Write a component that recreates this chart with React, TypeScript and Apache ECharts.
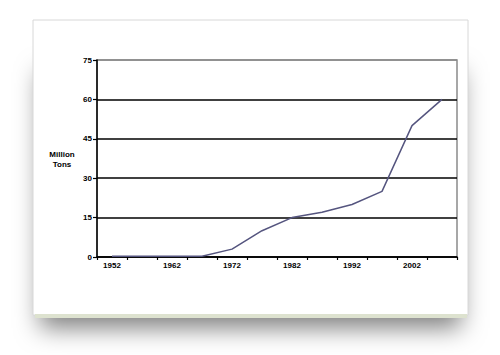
import React, { useEffect, useRef } from "react";
import * as echarts from "echarts";

const years = ["1952", "1957", "1962", "1967", "1972", "1977", "1982", "1987", "1992", "1997", "2002", "2007"];
const tons = [0.3, 0.3, 0.3, 0.3, 3, 10, 15, 17, 20, 25, 50, 60];
const yTicks = { min: 0, max: 75, interval: 15 };
const yName = "Million\nTons";

export default function App() {
  const ref = useRef<HTMLDivElement>(null);
  useEffect(() => {
    if (!ref.current) return;
    const chart = echarts.init(ref.current, null, { renderer: "svg" });
    const font = "Liberation Sans, Arial, sans-serif";
    chart.setOption({
      animation: false,
      backgroundColor: "#ffffff",
      graphic: [
        {
          type: "rect",
          z: -10,
          shape: { x: 40, y: 60, width: 421, height: 256 },
          style: { fill: "#ffffff", shadowBlur: 24, shadowColor: "rgba(0,0,0,0.5)", shadowOffsetY: 12 },
          silent: true,
        },
        {
          type: "rect",
          z: -9,
          shape: { x: 33, y: 20, width: 435, height: 295 },
          style: { fill: "#ffffff", stroke: "#d8d8d8", lineWidth: 1 },
          silent: true,
        },
        {
          type: "rect",
          z: -8,
          shape: { x: 35, y: 314, width: 432, height: 4 },
          style: { fill: "#dde2cf" },
          silent: true,
        },
        {
          type: "text",
          z: 10,
          x: 62,
          y: 159,
          style: {
            text: yName,
            fill: "#000",
            font: `bold 8px ${font}`,
            textAlign: "center",
            textVerticalAlign: "middle",
            lineHeight: 10,
          },
        },
      ],
      grid: {
        left: 97,
        right: 43,
        top: 60,
        bottom: 98,
        show: true,
        borderColor: "#8a8a8a",
        borderWidth: 1.5,
        backgroundColor: "transparent",
      },
      xAxis: {
        type: "category",
        data: years,
        boundaryGap: true,
        axisLine: { lineStyle: { color: "#000", width: 1.5 } },
        axisTick: { show: true, interval: 0, length: 3, lineStyle: { color: "#000", width: 1.2 } },
        axisLabel: { interval: 1, color: "#000", fontSize: 8, fontWeight: "bold", fontFamily: font, margin: 4 },
        splitLine: { show: false },
      },
      yAxis: {
        type: "value",
        min: yTicks.min,
        max: yTicks.max,
        interval: yTicks.interval,
        axisLine: { show: true, lineStyle: { color: "#000", width: 1.5 } },
        axisTick: { show: true, length: 4, lineStyle: { color: "#000", width: 1.2 } },
        axisLabel: { color: "#000", fontSize: 8, fontWeight: "bold", fontFamily: font, margin: 5 },
        splitLine: {
          show: true,
          lineStyle: { color: ["#000", "#000", "#000", "#000", "#000", "#8a8a8a"], width: 1.5 },
        },
      },
      series: [
        {
          type: "line",
          data: tons,
          symbol: "none",
          lineStyle: { color: "#55557f", width: 1.5 },
          z: 5,
        },
      ],
    });
    return () => chart.dispose();
  }, []);
  return <div ref={ref} style={{ position: "fixed", left: 0, top: 0, width: 500, height: 355 }} />;
}
